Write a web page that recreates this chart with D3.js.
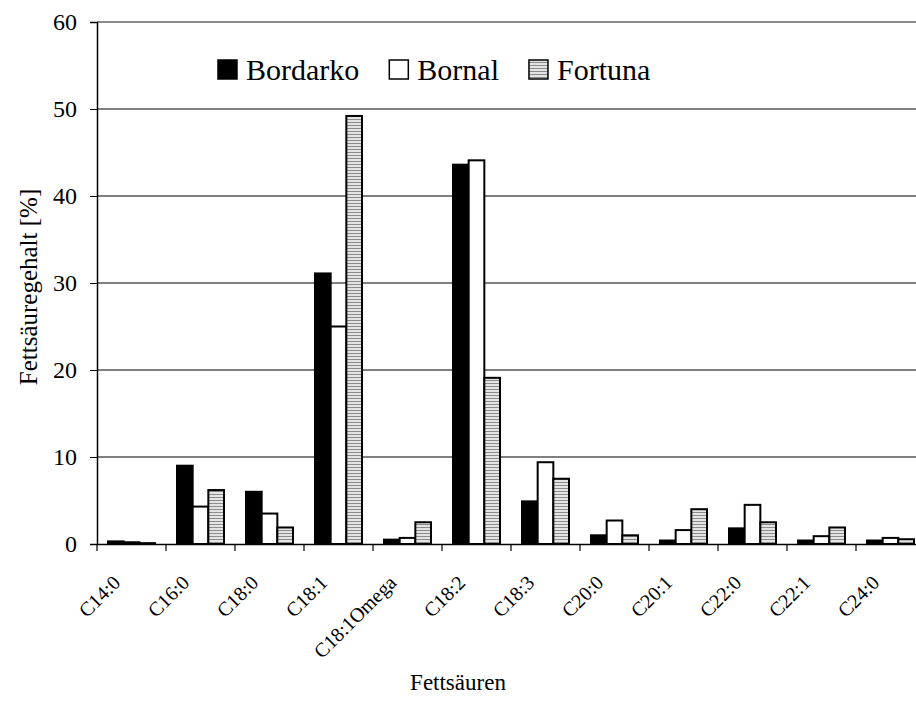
<!DOCTYPE html>
<html>
<head>
<meta charset="utf-8">
<script src="https://cdn.jsdelivr.net/npm/d3@7/dist/d3.min.js"></script>
<style>
  html, body { margin: 0; padding: 0; background: #fff; }
  svg { display: block; }
  text { font-family: "Liberation Serif", "Times New Roman", serif; }
</style>
</head>
<body>
<svg id="chart" width="916" height="702"></svg>
<script>
const categories = ["C14:0","C16:0","C18:0","C18:1","C18:1Omega","C18:2","C18:3","C20:0","C20:1","C22:0","C22:1","C24:0"];
const seriesNames = ["Bordarko","Bornal","Fortuna"];
const bordarko = [0.3, 9.0, 6.0, 31.1, 0.5, 43.6, 4.9, 1.0, 0.4, 1.8, 0.4, 0.4];
const bornal   = [0.2, 4.3, 3.5, 25.0, 0.7, 44.1, 9.4, 2.7, 1.6, 4.5, 0.9, 0.7];
const fortuna  = [0.1, 6.2, 1.9, 49.2, 2.5, 19.1, 7.5, 1.0, 4.0, 2.5, 1.9, 0.55];
const yTicks = [0, 10, 20, 30, 40, 50, 60];
const yTitle = "Fettsäuregehalt [%]";
const xTitle = "Fettsäuren";

(function () {
const FONT = "Liberation Serif";
const seriesValues = [bordarko, bornal, fortuna];
const svg = d3.select("#chart");

const pLeft = 97, pRight = 925, pTop = 22, pBottom = 544;

const defs = svg.append("defs");
const pat = defs.append("pattern").attr("id", "hatch").attr("patternUnits", "userSpaceOnUse")
  .attr("width", 6).attr("height", 3);
pat.append("rect").attr("width", 6).attr("height", 3).attr("fill", "#e4e4e4");
pat.append("rect").attr("y", 2).attr("width", 6).attr("height", 1).attr("fill", "#8c8c8c");

const fills = ["#000", "#fff", "url(#hatch)"];

const x0 = d3.scaleBand().domain(categories).range([pLeft, pRight]).paddingInner(0).paddingOuter(0);
const x1 = d3.scaleBand().domain(seriesNames).range([11, x0.bandwidth() - 11]);
const y = d3.scaleLinear().domain([0, 60]).range([pBottom, pTop]);

// gridlines
svg.append("g").selectAll("line").data(yTicks.filter(t => t > 0)).join("line")
  .attr("x1", pLeft).attr("x2", pRight)
  .attr("y1", d => y(d)).attr("y2", d => y(d))
  .attr("stroke", d => d === 60 ? "#8a8a8a" : "#000")
  .attr("stroke-width", d => d === 60 ? 2 : 1);

// bars
const rows = [];
categories.forEach((c, i) => seriesNames.forEach((s, j) => rows.push({c, s, j, v: seriesValues[j][i]})));
svg.append("g").selectAll("rect").data(rows).join("rect")
  .attr("x", d => x0(d.c) + x1(d.s))
  .attr("width", x1.bandwidth())
  .attr("y", d => y(d.v))
  .attr("height", d => y(0) - y(d.v))
  .attr("fill", d => fills[d.j])
  .attr("stroke", "#000")
  .attr("stroke-width", 2);

// y axis
const yAxis = d3.axisLeft(y).tickValues(yTicks).tickSize(7).tickPadding(13);
const gy = svg.append("g").attr("transform", `translate(${pLeft},0)`).call(yAxis)
  .attr("font-family", FONT);
gy.select(".domain").attr("stroke", "#000").attr("stroke-width", 1.5);
gy.selectAll(".tick line").attr("stroke", "#000");
gy.selectAll(".tick text").attr("font-family", FONT).attr("font-size", 24).attr("fill", "#000");

// x axis
const xAxis = d3.axisBottom(x0).tickSize(0).tickFormat("");
const gx = svg.append("g").attr("transform", `translate(0,${pBottom})`).call(xAxis);
gx.select(".domain").attr("stroke", "#000").attr("stroke-width", 1.5);
gx.selectAll(".sep").data(d3.range(categories.length + 1)).join("line")
  .attr("class", "sep")
  .attr("x1", i => pLeft + i * x0.step()).attr("x2", i => pLeft + i * x0.step())
  .attr("y1", 0).attr("y2", 7).attr("stroke", "#000").attr("stroke-width", 1.2);

svg.append("g").selectAll("text").data(categories).join("text")
  .attr("transform", d => `translate(${x0(d) + x0.bandwidth() / 2 - 10},${pBottom + 40}) rotate(-45)`)
  .attr("text-anchor", "end")
  .attr("font-family", FONT)
  .attr("font-size", 20)
  .attr("fill", "#000")
  .text(d => d);

// axis titles
svg.append("text")
  .attr("transform", `translate(37,${(pTop + pBottom) / 2 + 4}) rotate(-90)`)
  .attr("text-anchor", "middle")
  .attr("font-family", FONT)
  .attr("font-size", 25)
  .text(yTitle);
svg.append("text")
  .attr("x", 458).attr("y", 690)
  .attr("text-anchor", "middle")
  .attr("font-family", FONT)
  .attr("font-size", 23)
  .text(xTitle);

// legend
const lg = svg.append("g");
let lx = 218;
seriesNames.forEach((s, j) => {
  lg.append("rect").attr("x", lx).attr("y", 60).attr("width", 19).attr("height", 19)
    .attr("fill", fills[j]).attr("stroke", "#000").attr("stroke-width", 1.5);
  const t = lg.append("text").attr("x", lx + 28).attr("y", 80)
    .attr("font-family", FONT).attr("font-size", 30).text(s);
  lx = lx + 28 + t.node().getComputedTextLength() + 30;
});
})();
</script>
</body>
</html>
